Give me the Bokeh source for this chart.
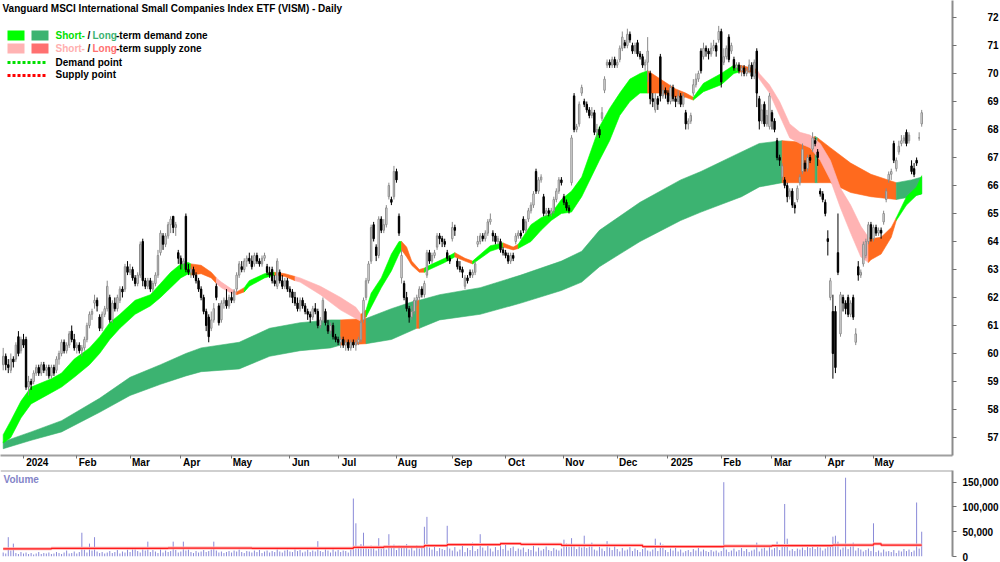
import pandas as pd
from bokeh.plotting import figure
from bokeh.layouts import column
from bokeh.models import (Range1d, LinearAxis, FixedTicker, NumeralTickFormatter,
                          Label, BoxAnnotation, Arrow, Span, ColumnDataSource)
from bokeh.embed import file_html
from bokeh.resources import INLINE

# ---------------- data ----------------
TITLE = "Vanguard MSCI International Small Companies Index ETF (VISM) - Daily"
START, END = "2023-12-18", "2025-05-28"
HOLIDAYS = ["2023-12-25", "2023-12-26", "2024-01-01", "2024-01-26", "2024-03-29", "2024-04-01",
            "2024-04-25", "2024-06-10", "2024-12-25", "2024-12-26", "2025-01-01", "2025-01-27",
            "2025-04-18", "2025-04-21", "2025-04-25"]

opens = [
    59.6, 59.9, 59.6, 59.4, 59.8, 59.8, 60.6, 60.1, 60.5, 60.5,
    58.8, 59.0, 59.0, 59.3, 59.5, 59.3, 59.6, 59.4, 59.5, 59.2,
    59.5, 59.4, 59.8, 60.0, 60.4, 60.1, 60.3, 60.8, 60.5, 60.2,
    60.3, 60.1, 60.2, 60.5, 61.0, 61.4, 61.8, 61.9, 61.3, 60.9,
    61.4, 61.6, 62.0, 61.2, 61.8, 61.6, 61.9, 62.3, 62.3, 63.1,
    62.9, 63.0, 62.7, 62.5, 62.8, 64.0, 62.6, 62.4, 62.6, 62.3,
    62.5, 62.8, 63.6, 64.2, 63.9, 64.2, 64.6, 64.9, 64.5, 63.6,
    63.4, 63.2, 64.9, 63.0, 62.9, 63.0, 62.8, 62.6, 62.3, 62.0,
    61.5, 61.3, 60.9, 61.2, 62.4, 61.7, 61.2, 61.8, 61.9, 61.7,
    62.0, 61.9, 62.3, 62.8, 63.1, 63.0, 63.3, 63.4, 63.3, 63.2,
    63.5, 63.3, 63.2, 63.4, 63.1, 62.9, 63.0, 62.6, 62.4, 62.9,
    62.6, 62.4, 62.6, 62.3, 62.2, 62.0, 61.8, 61.6, 61.9, 61.7,
    61.5, 61.4, 61.3, 61.6, 61.5, 61.0, 61.2, 61.5, 61.0, 60.8,
    61.0, 60.6, 60.5, 60.4, 60.5, 60.3, 60.4, 60.2, 60.4, 60.3,
    60.4, 60.5, 61.2, 62.0, 62.6, 63.3, 64.6, 63.8, 63.5, 64.8,
    64.4, 64.6, 65.6, 65.5, 65.6, 66.5, 64.9, 62.7, 62.5, 62.0,
    61.6, 61.3, 61.5, 61.9, 62.0, 62.3, 62.1, 62.8, 63.6, 63.3,
    63.5, 63.8, 64.2, 64.1, 64.0, 63.6, 63.4, 64.1, 64.5, 63.3,
    63.1, 63.0, 62.4, 62.7, 62.9, 62.8, 62.9, 63.9, 64.0, 64.2,
    64.1, 64.3, 64.7, 64.3, 64.2, 64.0, 64.0, 63.7, 63.6, 63.5,
    63.3, 63.5, 64.0, 64.2, 64.3, 64.8, 64.4, 64.8, 65.1, 65.3,
    66.5, 65.8, 66.2, 65.6, 65.0, 65.1, 65.0, 65.1, 65.5, 65.8,
    66.2, 65.6, 65.4, 65.2, 66.1, 69.2, 68.0, 68.2, 69.3, 69.0,
    68.9, 68.7, 68.5, 68.6, 67.9, 68.0, 68.4, 69.4, 70.3, 70.4,
    70.3, 70.5, 70.3, 70.5, 70.9, 71.1, 71.0, 71.4, 71.0, 70.8,
    71.1, 70.7, 70.6, 70.3, 70.4, 70.0, 69.1, 68.7, 69.1, 70.6,
    69.2, 69.4, 69.3, 69.0, 69.5, 69.1, 69.0, 69.2, 68.9, 68.6,
    68.2, 68.3, 69.3, 69.6, 69.8, 70.8, 70.6, 70.9, 70.8, 70.7,
    70.9, 71.0, 71.2, 71.5, 70.4, 70.6, 71.3, 70.8, 70.5, 70.2,
    70.3, 70.1, 70.2, 70.0, 70.1, 70.3, 69.9, 70.8, 69.1, 68.3,
    68.9, 68.2, 68.1, 68.6, 68.3, 67.6, 67.0, 66.3, 66.2, 66.0,
    65.6, 65.8, 65.3, 65.5, 66.1, 66.5, 66.8, 66.6, 67.0, 67.3,
    67.6, 67.2, 65.8, 65.7, 65.4, 64.1, 62.0, 61.5, 61.5, 63.6,
    60.7, 62.0, 61.8, 62.0, 61.4, 62.0, 60.4, 63.1, 62.8, 63.2,
    63.5, 64.0, 64.6, 64.1, 64.5, 64.3, 64.4, 64.7, 65.5, 66.2,
    66.4, 67.5, 66.6, 67.2, 67.5, 67.6, 67.9, 67.6, 66.7, 66.6,
    66.9, 67.7, 68.2]

highs = [
    60.2, 60.0, 59.8, 60.0, 59.9, 60.4, 60.8, 60.6, 60.7, 60.6,
    59.2, 59.1, 59.4, 59.6, 59.6, 59.7, 59.7, 59.6, 59.6, 59.6,
    59.6, 59.9, 60.1, 60.5, 60.5, 60.4, 60.8, 61.0, 60.7, 60.4,
    60.4, 60.3, 60.6, 61.1, 61.5, 61.6, 62.1, 62.0, 61.4, 61.5,
    61.7, 62.6, 62.1, 61.9, 62.0, 62.1, 62.4, 62.4, 63.2, 63.3,
    63.2, 63.1, 62.8, 62.9, 64.0, 64.1, 62.7, 62.7, 62.7, 62.6,
    62.9, 63.7, 64.4, 64.3, 64.3, 64.7, 64.9, 64.9, 64.7, 63.7,
    63.5, 63.4, 65.0, 63.2, 63.1, 63.1, 62.9, 62.7, 62.4, 62.1,
    61.6, 61.4, 61.5, 61.8, 62.5, 61.8, 61.9, 62.0, 62.3, 62.1,
    62.2, 62.3, 62.9, 63.3, 63.3, 63.4, 63.5, 63.6, 63.5, 63.6,
    63.6, 63.4, 63.5, 63.6, 63.2, 63.1, 63.1, 62.8, 63.4, 63.0,
    62.8, 62.7, 62.7, 62.4, 62.3, 62.2, 62.0, 62.0, 62.0, 61.8,
    61.6, 61.5, 61.7, 61.8, 61.6, 61.3, 62.0, 61.6, 61.2, 61.1,
    61.1, 60.7, 60.6, 60.6, 60.6, 60.5, 60.5, 60.5, 60.5, 60.5,
    60.6, 61.2, 62.0, 62.7, 63.3, 64.6, 64.7, 63.9, 64.9, 64.9,
    64.8, 65.3, 66.1, 65.6, 66.7, 66.6, 65.0, 63.7, 62.6, 62.2,
    61.7, 61.7, 62.0, 62.1, 62.4, 62.4, 62.6, 63.7, 63.7, 63.6,
    63.7, 64.3, 64.3, 64.2, 64.1, 63.7, 63.5, 64.7, 64.6, 63.4,
    63.3, 63.1, 62.8, 62.8, 63.0, 63.0, 63.3, 64.2, 64.3, 64.3,
    64.4, 64.8, 65.0, 64.4, 64.3, 64.2, 64.1, 63.8, 63.7, 63.6,
    63.6, 63.6, 64.3, 64.4, 64.4, 64.9, 64.8, 65.2, 65.4, 65.8,
    66.6, 66.3, 66.4, 65.7, 65.2, 65.2, 65.2, 65.6, 65.9, 66.3,
    66.3, 65.7, 65.5, 65.3, 67.8, 69.3, 68.2, 69.0, 69.6, 69.1,
    69.0, 68.8, 68.8, 68.7, 68.2, 68.1, 68.8, 69.9, 70.5, 70.5,
    70.6, 70.6, 70.5, 71.0, 71.5, 71.2, 71.6, 71.5, 71.1, 71.1,
    71.2, 70.8, 70.7, 70.5, 71.3, 70.1, 69.3, 69.3, 69.2, 70.7,
    69.6, 69.5, 69.4, 69.6, 69.6, 69.2, 69.4, 69.3, 69.3, 68.7,
    68.4, 68.6, 69.8, 70.0, 70.1, 70.9, 71.1, 71.0, 70.9, 71.1,
    71.2, 71.1, 71.7, 71.6, 70.9, 71.0, 71.4, 71.1, 70.6, 70.4,
    70.4, 70.3, 70.3, 70.2, 70.5, 70.4, 70.5, 70.9, 69.2, 68.9,
    69.0, 68.7, 69.3, 68.7, 68.4, 67.7, 67.1, 66.8, 66.3, 66.1,
    65.9, 65.9, 65.4, 66.0, 66.4, 67.5, 66.9, 67.1, 67.1, 67.9,
    67.7, 67.3, 65.9, 65.8, 65.5, 64.4, 62.7, 62.1, 61.7, 65.0,
    62.2, 62.1, 61.9, 62.1, 61.9, 62.1, 60.9, 63.3, 63.0, 64.0,
    64.1, 64.7, 64.7, 64.6, 64.6, 64.5, 64.5, 65.1, 65.9, 66.5,
    66.6, 67.6, 67.0, 67.6, 67.8, 67.8, 68.0, 67.9, 66.9, 66.8,
    67.0, 67.9, 68.7]

lows = [
    59.4, 59.4, 59.3, 59.3, 59.5, 59.7, 59.9, 60.0, 60.2, 58.7,
    58.5, 58.7, 58.9, 59.2, 59.2, 59.2, 59.3, 59.2, 59.1, 59.1,
    59.2, 59.3, 59.6, 59.9, 60.0, 60.0, 60.2, 60.4, 60.1, 60.0,
    60.0, 59.9, 60.1, 60.4, 60.9, 61.2, 61.6, 61.5, 60.8, 60.8,
    61.3, 61.5, 61.1, 61.1, 61.5, 61.5, 61.8, 62.0, 62.2, 62.8,
    62.8, 62.6, 62.4, 62.4, 62.7, 62.4, 62.3, 62.3, 62.2, 62.2,
    62.4, 62.7, 63.5, 63.7, 63.8, 64.1, 64.3, 64.3, 64.2, 63.2,
    63.0, 63.0, 62.9, 62.8, 62.7, 62.7, 62.5, 62.2, 61.9, 61.4,
    60.8, 60.4, 60.8, 61.1, 61.9, 61.0, 61.1, 61.6, 61.6, 61.6,
    61.8, 61.8, 62.2, 62.7, 62.9, 62.9, 63.1, 63.2, 63.0, 63.1,
    63.2, 63.1, 63.1, 63.3, 62.8, 62.7, 62.5, 62.4, 62.3, 62.5,
    62.3, 62.3, 62.2, 62.0, 61.8, 61.7, 61.5, 61.5, 61.6, 61.4,
    61.2, 61.1, 61.2, 61.4, 60.9, 60.9, 61.1, 61.0, 60.7, 60.7,
    60.5, 60.4, 60.3, 60.2, 60.2, 60.1, 60.1, 60.1, 60.2, 60.1,
    60.3, 60.4, 61.1, 61.9, 62.5, 63.2, 64.0, 63.3, 63.4, 64.3,
    64.3, 64.5, 65.5, 65.3, 65.5, 66.1, 64.2, 62.5, 61.9, 61.5,
    61.1, 61.2, 61.4, 61.7, 61.9, 62.0, 62.0, 62.7, 63.2, 63.2,
    63.4, 63.7, 63.9, 63.8, 63.8, 63.3, 63.2, 64.0, 64.2, 63.0,
    62.9, 62.7, 62.3, 62.5, 62.7, 62.7, 62.8, 63.8, 63.9, 64.0,
    64.0, 64.2, 64.6, 64.0, 63.9, 63.9, 63.6, 63.5, 63.4, 63.2,
    63.2, 63.3, 63.9, 64.1, 64.1, 64.3, 64.3, 64.7, 65.0, 65.2,
    65.7, 65.7, 66.1, 64.9, 64.9, 64.9, 64.9, 65.0, 65.4, 65.7,
    66.0, 65.3, 65.1, 65.0, 66.0, 67.9, 67.9, 68.1, 69.2, 68.8,
    68.6, 68.4, 68.4, 67.8, 67.7, 67.7, 68.3, 69.3, 70.2, 70.2,
    70.2, 70.2, 70.2, 70.4, 70.8, 70.9, 70.9, 71.1, 70.7, 70.7,
    70.6, 70.5, 70.2, 70.1, 69.7, 68.9, 68.8, 68.6, 68.7, 69.0,
    69.1, 69.1, 68.9, 68.9, 69.0, 68.8, 68.9, 68.8, 68.8, 68.0,
    68.0, 68.2, 69.2, 69.5, 69.7, 70.0, 70.5, 70.6, 70.5, 70.6,
    70.8, 70.6, 71.1, 69.5, 70.3, 70.5, 70.4, 70.7, 70.1, 70.1,
    70.0, 69.9, 69.9, 69.9, 70.0, 69.8, 69.8, 68.8, 68.0, 68.2,
    68.1, 68.1, 68.0, 68.0, 67.9, 66.9, 66.7, 66.2, 65.9, 65.4,
    65.5, 65.2, 65.0, 65.4, 66.0, 66.4, 66.5, 66.5, 66.8, 67.2,
    67.4, 66.7, 65.6, 65.4, 64.9, 63.5, 61.9, 59.1, 59.3, 62.8,
    60.6, 61.5, 61.4, 61.3, 61.3, 61.2, 60.3, 62.6, 62.7, 63.1,
    63.4, 63.9, 64.0, 64.0, 64.2, 64.2, 64.1, 64.6, 65.4, 66.1,
    66.2, 66.8, 66.5, 67.1, 67.4, 67.5, 67.4, 67.5, 66.4, 66.3,
    66.7, 67.6, 68.1]

closes = [
    59.9, 59.6, 59.5, 59.8, 59.7, 60.3, 60.0, 60.5, 60.3, 58.8,
    59.0, 58.9, 59.3, 59.5, 59.3, 59.6, 59.4, 59.5, 59.2, 59.5,
    59.3, 59.8, 60.0, 60.4, 60.1, 60.3, 60.7, 60.5, 60.2, 60.3,
    60.1, 60.2, 60.5, 61.0, 61.4, 61.5, 61.9, 61.7, 60.9, 61.4,
    61.6, 62.4, 61.2, 61.8, 61.6, 62.0, 62.3, 62.2, 63.1, 62.9,
    63.0, 62.7, 62.5, 62.8, 63.9, 62.6, 62.4, 62.6, 62.3, 62.5,
    62.8, 63.5, 64.3, 63.9, 64.2, 64.6, 64.8, 64.5, 64.6, 63.4,
    63.2, 63.3, 63.0, 62.9, 63.0, 62.8, 62.6, 62.3, 62.0, 61.5,
    61.0, 60.6, 61.2, 61.6, 62.0, 61.1, 61.8, 61.9, 61.7, 62.0,
    61.9, 62.2, 62.8, 63.2, 63.0, 63.3, 63.4, 63.3, 63.1, 63.5,
    63.3, 63.2, 63.4, 63.5, 62.9, 62.8, 62.6, 62.5, 63.3, 62.6,
    62.4, 62.6, 62.3, 62.2, 62.0, 61.8, 61.6, 61.9, 61.7, 61.5,
    61.4, 61.3, 61.6, 61.5, 61.0, 61.2, 61.9, 61.1, 60.8, 61.0,
    60.6, 60.5, 60.4, 60.5, 60.3, 60.4, 60.2, 60.4, 60.3, 60.4,
    60.5, 61.1, 61.9, 62.6, 63.2, 64.5, 64.1, 63.5, 64.8, 64.4,
    64.6, 65.2, 66.0, 65.4, 66.5, 66.2, 64.3, 63.5, 62.0, 61.6,
    61.3, 61.5, 61.9, 62.0, 62.3, 62.1, 62.5, 63.6, 63.3, 63.5,
    63.6, 64.2, 64.1, 64.0, 63.9, 63.4, 63.3, 64.5, 64.4, 63.1,
    63.0, 62.9, 62.7, 62.6, 62.8, 62.9, 63.2, 64.0, 64.2, 64.1,
    64.3, 64.7, 64.8, 64.2, 64.0, 64.1, 63.7, 63.6, 63.5, 63.3,
    63.5, 63.4, 64.2, 64.3, 64.2, 64.4, 64.7, 65.1, 65.3, 65.7,
    65.8, 66.2, 66.3, 65.0, 65.1, 65.0, 65.1, 65.5, 65.8, 66.2,
    66.1, 65.4, 65.2, 65.1, 67.7, 68.0, 68.1, 68.9, 69.5, 68.9,
    68.7, 68.5, 68.6, 67.9, 68.0, 67.8, 68.6, 69.8, 70.4, 70.3,
    70.5, 70.3, 70.4, 70.9, 71.3, 71.0, 71.4, 71.2, 70.8, 71.0,
    70.7, 70.6, 70.3, 70.4, 70.8, 69.1, 69.0, 69.1, 68.9, 69.2,
    69.4, 69.3, 69.0, 69.5, 69.1, 69.0, 69.2, 68.9, 69.2, 68.2,
    68.3, 68.5, 69.6, 69.8, 70.0, 70.1, 70.9, 70.8, 70.7, 70.9,
    71.0, 70.8, 71.5, 69.7, 70.6, 70.9, 70.5, 71.0, 70.2, 70.3,
    70.1, 70.2, 70.0, 70.1, 70.3, 69.9, 70.4, 69.3, 68.3, 68.7,
    68.2, 68.5, 69.2, 68.3, 68.0, 67.0, 66.9, 66.7, 66.0, 65.6,
    65.8, 65.3, 65.2, 65.9, 66.3, 67.3, 66.6, 67.0, 66.9, 67.7,
    67.5, 67.0, 65.7, 65.5, 65.0, 64.0, 62.6, 60.0, 59.5, 62.9,
    62.1, 61.8, 61.6, 61.4, 61.8, 61.3, 60.7, 62.8, 62.9, 63.9,
    64.0, 64.6, 64.1, 64.5, 64.3, 64.4, 64.3, 65.0, 65.8, 66.4,
    66.5, 66.9, 66.9, 67.4, 67.6, 67.7, 67.5, 67.8, 66.5, 66.4,
    66.8, 67.7, 68.6]

# daily volume, thousands of units
volume_k = [
    8, 6, 39, 12, 26, 7, 5, 9, 6, 8,
    5, 7, 4, 6, 9, 5, 7, 6, 8, 5,
    6, 9, 7, 5, 8, 12, 6, 7, 10, 6,
    9, 48, 14, 8, 26, 12, 39, 10, 7, 9,
    6, 8, 11, 7, 9, 13, 6, 10, 8, 14,
    9, 16, 18, 11, 8, 17, 12, 30, 9, 13,
    10, 7, 15, 8, 12, 9, 11, 30, 13, 8,
    10, 30, 12, 14, 9, 7, 11, 8, 10, 13,
    9, 11, 14, 30, 12, 8, 10, 7, 9, 11,
    8, 12, 10, 14, 9, 7, 11, 10, 8, 12,
    9, 13, 7, 10, 12, 8, 11, 9, 18, 10,
    8, 12, 14, 10, 9, 17, 11, 13, 8, 10,
    14, 9, 12, 10, 31, 11, 9, 18, 12, 8,
    17, 10, 13, 9, 12, 11, 8, 14, 117, 67,
    18, 25, 48, 20, 15, 22, 18, 12, 37, 16,
    21, 14, 45, 19, 24, 13, 22, 20, 17, 25,
    14, 19, 12, 23, 16, 21, 60, 80, 18, 14,
    20, 11, 17, 15, 13, 62, 16, 12, 19, 10,
    14, 22, 9, 17, 13, 28, 11, 15, 45, 18,
    12, 24, 16, 10, 19, 13, 21, 15, 27, 12,
    17, 20, 11, 16, 14, 18, 9, 15, 13, 22,
    10, 18, 12, 15, 20, 13, 11, 17, 14, 12,
    16, 34, 26, 19, 37, 24, 15, 22, 18, 42,
    17, 21, 28, 14, 12, 20, 16, 11, 31, 18,
    13, 22, 15, 10, 17, 12, 14, 19, 11, 16,
    13, 9, 15, 18, 12, 10, 14, 36, 11, 28,
    24, 13, 9, 16, 12, 20, 10, 14, 8, 11,
    13, 9, 15, 12, 18, 10, 14, 11, 9, 13,
    10, 12, 8, 11, 150, 14, 9, 12, 16, 10,
    13, 17, 11, 15, 9, 12, 14, 28, 10, 16,
    18, 12, 20, 14, 17, 30, 13, 19, 106, 36,
    12, 15, 11, 16, 14, 18, 13, 22, 17, 25,
    15, 20, 18, 12, 16, 19, 22, 40, 42, 30,
    14, 18, 159, 15, 20, 28, 12, 17, 14, 10,
    13, 16, 11, 67, 9, 12, 8, 14, 10, 11,
    9, 13, 7, 12, 10, 15, 11, 14, 9, 12,
    109, 16, 50]

# volume average (thousands), stepped
vol_avg_day = [0, 19, 65, 98, 138, 150, 166, 175, 196, 204, 220, 252, 284, 303, 327, 343, 346, 362]
vol_avg_k = [15.5, 16.5, 17.0, 16.5, 18.5, 19.5, 22.0, 24.0, 26.0, 24.5, 22.5, 20.0, 21.0, 22.0, 23.0, 25.5, 23.0, 23.0]

# short-term zone (day index, upper, lower, state: D demand, O / P supply)
st_day = [0, 3, 7, 11, 19, 23, 28, 34, 38, 42, 46, 52, 58, 62, 66, 70, 73, 74, 78, 82,
          84, 86, 90, 92, 95, 97, 103, 107, 111, 115, 117, 125, 133, 139, 141, 143, 145, 149, 153, 156,
          157, 159, 161, 164, 166, 168, 174, 178, 182, 185, 192, 197, 201, 203, 208, 212, 216, 220, 224, 228,
          235, 239, 243, 247, 251, 254, 259, 265, 269, 272, 276, 283, 288, 290, 295, 297, 298, 302, 306, 310,
          314, 318, 322, 326, 330, 334, 338, 341, 342, 346, 350, 352, 356, 360, 362]
st_hi = [57.1, 57.6, 58.3, 58.8, 59.1, 59.3, 59.8, 60.2, 60.6, 61.1, 61.4, 61.9, 62.1, 62.5, 62.9, 63.2, 63.25, 63.2, 63.15, 62.9,
         62.7, 62.55, 62.3, 62.2, 62.35, 62.6, 62.85, 62.9, 62.85, 62.75, 62.7, 62.4, 62.0, 61.65, 61.4, 61.55, 62.15, 62.7, 63.55, 64.0,
         64.0, 63.8, 63.3, 63.0, 63.05, 63.15, 63.4, 63.6, 63.4, 63.3, 63.85, 63.95, 63.8, 63.9, 64.6, 64.85, 65.0, 65.5, 65.8, 66.3,
         68.1, 68.75, 69.3, 69.8, 70.0, 70.1, 69.8, 69.45, 69.3, 69.15, 69.65, 70.0, 70.3, 70.3, 70.2, 70.15, 70.0, 69.6, 69.0, 68.2,
         67.9, 67.8, 67.5, 66.9, 65.9, 65.3, 64.55, 64.15, 64.1, 64.15, 64.5, 64.85, 65.6, 65.95, 66.35]
st_lo = [56.8, 57.0, 57.7, 58.2, 58.6, 58.8, 59.15, 59.6, 60.0, 60.5, 60.9, 61.4, 61.7, 62.0, 62.35, 62.7, 62.85, 62.8, 62.85, 62.7,
         62.5, 62.35, 62.15, 62.1, 62.2, 62.4, 62.7, 62.8, 62.75, 62.6, 62.55, 62.1, 61.55, 61.25, 61.15, 61.3, 61.65, 62.35, 62.95, 63.55,
         63.7, 63.45, 63.15, 62.9, 62.9, 63.0, 63.25, 63.45, 63.3, 63.2, 63.65, 63.8, 63.7, 63.75, 64.0, 64.4, 64.75, 65.0, 65.05, 65.6,
         66.9, 67.6, 68.5, 69.0, 69.3, 69.3, 69.3, 69.15, 69.15, 69.05, 69.35, 69.6, 70.0, 70.05, 70.05, 70.0, 69.8, 69.3, 68.5, 67.7,
         67.5, 67.35, 66.9, 66.2, 65.2, 64.3, 63.45, 63.25, 63.35, 63.55, 64.15, 64.75, 65.3, 65.65, 65.7]
st_state = ["D", "D", "D", "D", "D", "D", "D", "D", "D", "D", "D", "D", "D", "D", "D", "D", "D", "O", "O", "O",
            "P", "P", "P", "O", "D", "D", "D", "O", "O", "P", "P", "P", "P", "P", "O", "D", "D", "D", "D", "D",
            "O", "O", "O", "O", "D", "D", "D", "O", "O", "D", "D", "O", "O", "D", "D", "D", "D", "D", "D", "D",
            "D", "D", "D", "D", "D", "O", "O", "O", "O", "D", "D", "D", "D", "O", "O", "P", "P", "P", "P", "P",
            "P", "P", "P", "P", "P", "P", "P", "O", "O", "O", "O", "D", "D", "D", "D"]

# long-term zone
lt_day = [0, 11, 23, 38, 50, 62, 72, 78, 93, 105, 117, 129, 133, 143, 153, 163, 164, 172, 188, 204,
          220, 228, 235, 243, 251, 267, 275, 291, 298, 307, 314, 320, 321, 326, 334, 342, 352, 358, 362]
lt_hi = [56.85, 57.2, 57.6, 58.4, 59.15, 59.6, 60.0, 60.2, 60.4, 60.9, 61.1, 61.2, 61.2, 61.25, 61.6, 61.9, 61.9, 62.1, 62.35, 62.8,
         63.3, 63.65, 64.4, 64.9, 65.4, 66.2, 66.5, 67.2, 67.5, 67.6, 67.55, 67.75, 67.7, 67.35, 66.8, 66.4, 66.1, 66.2, 66.3]
lt_lo = [56.6, 56.9, 57.2, 57.9, 58.5, 58.9, 59.2, 59.35, 59.45, 59.9, 60.1, 60.2, 60.3, 60.35, 60.5, 60.9, 60.9, 61.2, 61.4, 61.8,
         62.25, 62.55, 63.1, 63.55, 64.0, 64.75, 65.05, 65.6, 65.95, 66.1, 66.1, 66.1, 66.1, 66.1, 65.75, 65.6, 65.5, 65.6, 65.7]
lt_state = ["D", "D", "D", "D", "D", "D", "D", "D", "D", "D", "D", "D", "O", "D", "D", "O", "D", "D", "D", "D",
            "D", "D", "D", "D", "D", "D", "D", "D", "D", "O", "O", "D", "O", "O", "O", "O", "D", "D", "D"]

PRICE_TICKS = list(range(57, 73))
VOLUME_TICKS = [0, 50000, 100000, 150000]

# ---------------- styling ----------------
FONT = "Liberation Sans"
C_ST_DEMAND = "#00FF00"
C_LT_DEMAND = "#3CB371"
C_ST_SUPPLY = "#FFB3B3"
C_SUPPLY = "#FF6A1E"
C_LEG_LT_SUPPLY = "#FF7070"
FRAME_W, FRAME_H, VOL_H = 952, 455, 86
X0, X1 = -1.065, 374.14
PX_PER_DAY = FRAME_W / (X1 - X0)

# trading calendar
dates = [d for d in pd.bdate_range(START, END) if d.strftime("%Y-%m-%d") not in HOLIDAYS]
n = min(len(opens), len(highs), len(lows), len(closes), len(volume_k), len(dates))
idx = list(range(n))
o, h, l, c = opens[:n], highs[:n], lows[:n], closes[:n]
h = [max(a, b, cc) for a, b, cc in zip(h, o, c)]
l = [min(a, b, cc) for a, b, cc in zip(l, o, c)]

month_idx, month_lbl = [], []
prev = None
for i, d in enumerate(dates[:n]):
    key = (d.year, d.month)
    if key != prev:
        if i > 0:
            month_idx.append(i)
            month_lbl.append(str(d.year) if d.month == 1 else d.strftime("%b"))
        prev = key
label_pos = [round(mi + (2 + 0.5 * len(t) * 5.9) / PX_PER_DAY, 2) for mi, t in zip(month_idx, month_lbl)]

xr = Range1d(X0, X1)

p = figure(frame_width=FRAME_W, frame_height=FRAME_H, x_range=xr, y_range=Range1d(56.357, 72.607),
           output_backend="svg", toolbar_location=None, x_axis_location=None, y_axis_location=None,
           min_border_left=0, min_border_right=48, min_border_top=0, min_border_bottom=0)
p.outline_line_color = None
p.background_fill_color = "white"
p.border_fill_color = "white"
p.grid.visible = False


def zone_patches(days, top, bot, state, colors):
    xs, ys, cs = [], [], []
    k, m = 0, len(days)
    while k < m - 1:
        s = state[k]
        j = k
        while j + 1 < m - 1 and state[j + 1] == s:
            j += 1
        seg = list(range(k, j + 2))
        xs.append([days[q] for q in seg] + [days[q] for q in reversed(seg)])
        ys.append([top[q] for q in seg] + [bot[q] for q in reversed(seg)])
        cs.append(colors[s])
        k = j + 1
    return xs, ys, cs


lxs, lys, lcs = zone_patches(lt_day, lt_hi, lt_lo, lt_state, {"D": C_LT_DEMAND, "O": C_SUPPLY})
p.patches(lxs, lys, fill_color=lcs, line_color=lcs, line_width=0.6)
sxs, sys_, scs = zone_patches(st_day, st_hi, st_lo, st_state,
                              {"D": C_ST_DEMAND, "O": C_SUPPLY, "P": C_ST_SUPPLY})
p.patches(sxs, sys_, fill_color=scs, line_color=scs, line_width=0.6)

up = [i for i in idx if c[i] >= o[i]]
dn = [i for i in idx if c[i] < o[i]]
src_up = ColumnDataSource(dict(x=up, h=[h[i] for i in up], l=[l[i] for i in up],
                               top=[c[i] for i in up], bot=[o[i] for i in up]))
src_dn = ColumnDataSource(dict(x=dn, h=[h[i] for i in dn], l=[l[i] for i in dn],
                               top=[o[i] for i in dn], bot=[c[i] for i in dn]))
p.segment(x0="x", y0="l", x1="x", y1="h", source=src_up, line_color="#8A8A8A", line_width=1)
p.vbar(x="x", width=0.55, top="top", bottom="bot", source=src_up,
       fill_color="white", line_color="#8A8A8A", line_width=1)
p.segment(x0="x", y0="l", x1="x", y1="h", source=src_dn, line_color="black", line_width=1)
p.vbar(x="x", width=0.55, top="top", bottom="bot", source=src_dn,
       fill_color="black", line_color="black", line_width=1)

ya = LinearAxis(ticker=FixedTicker(ticks=PRICE_TICKS, minor_ticks=[]),
                major_tick_out=4, major_tick_in=0, major_label_standoff=31,
                axis_line_color="#8C8C8C", axis_line_width=2, major_tick_line_color="#707070",
                major_label_text_font=FONT, major_label_text_font_size="10px",
                major_label_text_font_style="bold", major_label_text_color="black")
p.add_layout(ya, "right")

xa = LinearAxis(ticker=FixedTicker(ticks=label_pos, minor_ticks=month_idx),
                major_label_overrides={pos: t for pos, t in zip(label_pos, month_lbl)},
                major_tick_out=0, major_tick_in=0, minor_tick_out=3, minor_tick_in=0,
                minor_tick_line_color="#707070", major_label_standoff=-2,
                axis_line_color="#A0A0A0", axis_line_width=2,
                major_label_text_font=FONT, major_label_text_font_size="10px",
                major_label_text_font_style="bold", major_label_text_color="black")
p.add_layout(xa, "below")


def lab(fig, x, ytop, text, color="black", size="10px", fh=FRAME_H):
    fig.add_layout(Label(x=x, y=fh - ytop, x_units="screen", y_units="screen", text=text,
                         text_color=color, text_font=FONT, text_font_size=size,
                         text_font_style="bold", text_baseline="middle"))


def box(fig, x0, x1, y0, y1, color):
    fig.add_layout(BoxAnnotation(left=x0, right=x1, top=FRAME_H - y0, bottom=FRAME_H - y1,
                                 left_units="screen", right_units="screen",
                                 top_units="screen", bottom_units="screen",
                                 fill_color=color, fill_alpha=1.0, line_color=None))


lab(p, 2, 8, TITLE)
box(p, 7, 24, 30, 40, C_ST_DEMAND)
box(p, 31, 48, 30, 40, C_LT_DEMAND)
box(p, 7, 24, 43, 53, C_ST_SUPPLY)
box(p, 31, 48, 43, 53, C_LEG_LT_SUPPLY)
lab(p, 55, 35, "Short-", "#00E000")
lab(p, 87, 35, "/")
lab(p, 92, 35, "Long", C_LT_DEMAND)
lab(p, 115.5, 35, "-term demand zone")
lab(p, 55, 48, "Short-", "#FFAFAF")
lab(p, 87, 48, "/")
lab(p, 92, 48, "Long", C_LEG_LT_SUPPLY)
lab(p, 115.5, 48, "-term supply zone")
lab(p, 55, 62, "Demand point")
lab(p, 55, 74, "Supply point")
p.add_layout(Arrow(end=None, x_start=7, y_start=FRAME_H - 62, x_end=45, y_end=FRAME_H - 62,
                   start_units="screen", end_units="screen",
                   line_color="#00E000", line_width=3, line_dash="3 2"))
p.add_layout(Arrow(end=None, x_start=7, y_start=FRAME_H - 75, x_end=45, y_end=FRAME_H - 75,
                   start_units="screen", end_units="screen",
                   line_color="#FF0000", line_width=3, line_dash="3 2"))

# ---------------- volume panel ----------------
VOL_TOP = 173600
pv = figure(frame_width=FRAME_W, frame_height=VOL_H, x_range=xr, y_range=Range1d(0, VOL_TOP),
            output_backend="svg", toolbar_location=None, x_axis_location=None, y_axis_location=None,
            min_border_left=0, min_border_right=48, min_border_top=0, min_border_bottom=6)
pv.outline_line_color = None
pv.grid.visible = False
vol = [v * 1000 for v in volume_k[:n]]
pv.segment(x0=idx, y0=[0] * n, x1=idx, y1=vol, line_color="#8A8AD8", line_width=1)
va_x = vol_avg_day
va_y = [v * 1000 for v in vol_avg_k]
pv.step(va_x, va_y, mode="after", line_color="#FFB0B0", line_width=3)
pv.step(va_x, va_y, mode="after", line_color="#FF1A1A", line_width=1.2)
pv.add_layout(Span(location=VOL_TOP, dimension="width", line_color="#A0A0A0", line_width=2))

va = LinearAxis(ticker=FixedTicker(ticks=VOLUME_TICKS, minor_ticks=[]),
                formatter=NumeralTickFormatter(format="0,0"),
                major_tick_out=4, major_tick_in=0, major_label_standoff=6,
                axis_line_color="#8C8C8C", axis_line_width=2, major_tick_line_color="#707070",
                major_label_text_font=FONT, major_label_text_font_size="10px",
                major_label_text_font_style="bold", major_label_text_color="black")
pv.add_layout(va, "right")
lab(pv, 3, 9, "Volume", "#8484C8", fh=VOL_H)

layout = column(p, pv, spacing=0)
open("out.html", "w").write(file_html(layout, INLINE, title="VISM"))
